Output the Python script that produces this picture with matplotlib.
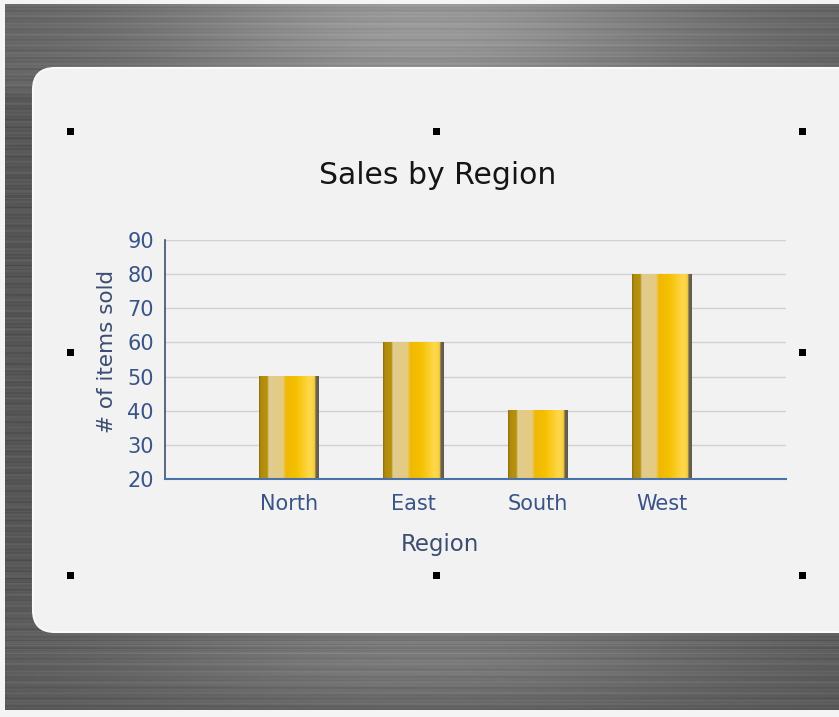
import numpy as np
import matplotlib
matplotlib.use("Agg")
import matplotlib.pyplot as plt
from matplotlib.patches import FancyBboxPatch, Rectangle
from matplotlib.colors import LinearSegmentedColormap

# ---- data ----
categories = ["North", "East", "South", "West"]
values = [50, 60, 40, 80]
y_ticks = [20, 30, 40, 50, 60, 70, 80, 90]
title = "Sales by Region"
x_label = "Region"
y_label = "# of items sold"

W, H = 839, 717
fig = plt.figure(figsize=(W / 100, H / 100), dpi=100)
fig.patch.set_facecolor("#f4f4f4")

# ---- brushed metal background ----
bg_ax = fig.add_axes([0, 0, 1, 1], zorder=-10)
bg_ax.set_axis_off()
xs = np.linspace(0, 1, 400)
ys = np.arange(H)
X, Y = np.meshgrid(xs, ys)
base = 0.34 + 0.22 * np.exp(-((X - 0.50) / 0.33) ** 2) * np.exp(-((Y - 25) / 80.0) ** 2)
base += 0.14 * np.exp(-((X - 0.5) / 0.40) ** 2) * np.exp(-((Y - 660) / 60.0) ** 2)
base += 0.04 * (Y < 90)
streak = (0.022 * np.sin(Y * 1.7) + 0.018 * np.sin(Y * 0.63 + 1.0) + 0.012 * np.sin(Y * 3.1 + 0.4)
          + 0.008 * np.sin(Y * 5.3 + X * 6.0))
img = np.clip(base + streak, 0, 1)
bg_ax.imshow(img, cmap="gray", vmin=0, vmax=1, aspect="auto",
             extent=[5, W, 710, 4], interpolation="bilinear")
bg_ax.set_xlim(0, W)
bg_ax.set_ylim(H, 0)

# ---- rounded panel ----
panel = FancyBboxPatch((33, 68), 860, 564, boxstyle="round,pad=0,rounding_size=22",
                       transform=bg_ax.transData, facecolor="#f2f2f2", edgecolor="#fafafa",
                       linewidth=1.5, zorder=2)
bg_ax.add_patch(panel)

# ---- selection handles ----
for hx, hy in [(70, 131), (436, 131), (802, 131), (70, 352), (802, 352),
               (70, 575), (436, 575), (802, 575)]:
    bg_ax.add_patch(Rectangle((hx - 3.5, hy - 3.5), 7, 7, facecolor="black",
                              edgecolor="none", zorder=3))

# ---- chart axes ----
left, right, top, bottom = 165, 786, 240, 479
ax = fig.add_axes([left / W, 1 - bottom / H, (right - left) / W, (bottom - top) / H])
ax.set_facecolor("none")
x = np.arange(1, len(categories) + 1)
ax.set_xlim(0, len(categories) + 1)
ax.set_ylim(y_ticks[0], y_ticks[-1])
ax.set_yticks(y_ticks)
ax.set_xticks(x)
ax.set_xticklabels(categories)
ax.grid(axis="y", color="#d2d2d2", linewidth=1.0)
ax.set_axisbelow(True)

bar_w = 60 / ((right - left) / (len(categories) + 1))
bars = ax.bar(x, [v - y_ticks[0] for v in values], bottom=y_ticks[0], width=bar_w,
              color="none", edgecolor="none", zorder=2)

grad_cols = [(0.00, "#8c6c08"), (0.03, "#b08a10"), (0.14, "#b8920c"), (0.16, "#e0cb90"),
             (0.40, "#e6cc80"), (0.45, "#f0b806"), (0.62, "#f5c000"), (0.85, "#ffd84c"),
             (0.93, "#f7cf40"), (0.95, "#6f6548"), (1.0, "#5e5a50")]
cmap = LinearSegmentedColormap.from_list("gold", grad_cols)
grad = np.linspace(0, 1, 256).reshape(1, -1)
for b in bars:
    bx, by, bw, bh = b.get_x(), b.get_y(), b.get_width(), b.get_height()
    ax.imshow(grad, cmap=cmap, aspect="auto", extent=[bx, bx + bw, by, by + bh],
              zorder=3, interpolation="bilinear")
ax.set_xlim(0, len(categories) + 1)
ax.set_ylim(y_ticks[0], y_ticks[-1])

for s in ["top", "right"]:
    ax.spines[s].set_visible(False)
ax.spines["left"].set_color("#3e506e")
ax.spines["bottom"].set_color("#4a72a8")
ax.spines["left"].set_linewidth(1.2)
ax.spines["bottom"].set_linewidth(1.5)
ax.spines["bottom"].set_zorder(4)
ax.tick_params(axis="both", length=0, labelsize=15, labelcolor="#3a5488")
ax.tick_params(axis="y", pad=8)
ax.tick_params(axis="x", pad=11)

fig.text(438 / W, 1 - 176 / H, title, ha="center", va="center", fontsize=21.5, color="#151515")
fig.text(440 / W, 1 - 545 / H, x_label, ha="center", va="center", fontsize=16.5, color="#3c4d72")
fig.text(107 / W, 1 - 351 / H, y_label, ha="center", va="center", rotation=90,
         fontsize=15.5, color="#3c4d72")

fig.savefig("out.png", dpi=100)
